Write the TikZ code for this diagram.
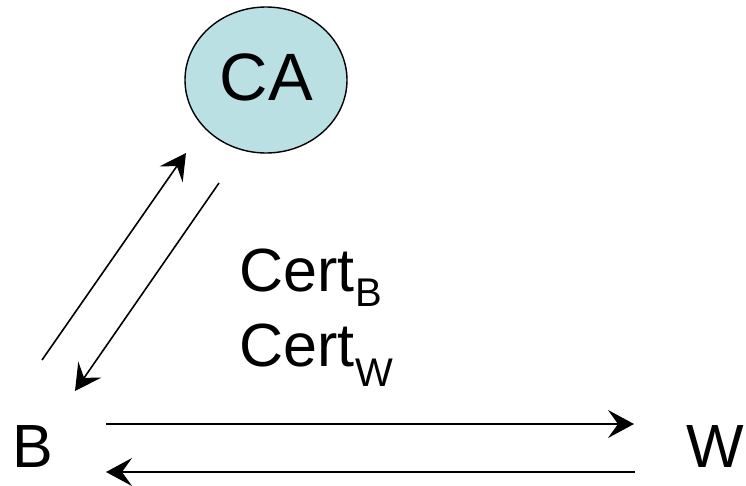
\documentclass[tikz,border=0pt]{standalone}
\usepackage{fontspec}
\setmainfont{Liberation Sans}
\usetikzlibrary{arrows.meta,shapes.geometric}
\definecolor{cafill}{RGB}{187,224,228}
\tikzset{
  conn/.style={line width=1.6pt,-{Stealth[length=26pt,width=28pt,inset=10pt]}},
  lbl/.style={inner sep=0pt,anchor=base west},
}
\newcommand{\fsz}[1]{\fontsize{#1}{#1}\selectfont}
\begin{document}
\begin{tikzpicture}[x=1pt,y=-1pt]
\useasboundingbox (0,0) rectangle (746,485);
\node[ellipse,draw=black,line width=1.4pt,fill=cafill,minimum width=162pt,minimum height=146pt,inner sep=0pt] (ca) at (266,80) {};
\node[inner sep=0pt,anchor=base] (catext) at (266.5,100) {\fsz{67}CA};
\node[lbl] (b) at (12.5,467) {\fsz{61}B};
\node[lbl] (w) at (686,467) {\fsz{61}W};
\node[lbl] (certb) at (239,291) {\fsz{61}Cert\kern1pt\raisebox{-15pt}{\fsz{40}B}};
\node[lbl] (certw) at (239,366) {\fsz{61}Cert\kern1pt\raisebox{-20pt}{\fsz{40}W}};
\coordinate (d1s) at (42,360);
\coordinate (d1e) at (186,153);
\coordinate (d2s) at (219,183);
\coordinate (d2e) at (75,391);
\coordinate (h1s) at (106,424);
\coordinate (h1e) at (634,424);
\coordinate (h2s) at (635,472);
\coordinate (h2e) at (106,472);
\draw[conn] (d1s) -- (d1e);
\draw[conn] (d2s) -- (d2e);
\draw[conn] (h1s) -- (h1e);
\draw[conn] (h2s) -- (h2e);
\end{tikzpicture}
\end{document}
